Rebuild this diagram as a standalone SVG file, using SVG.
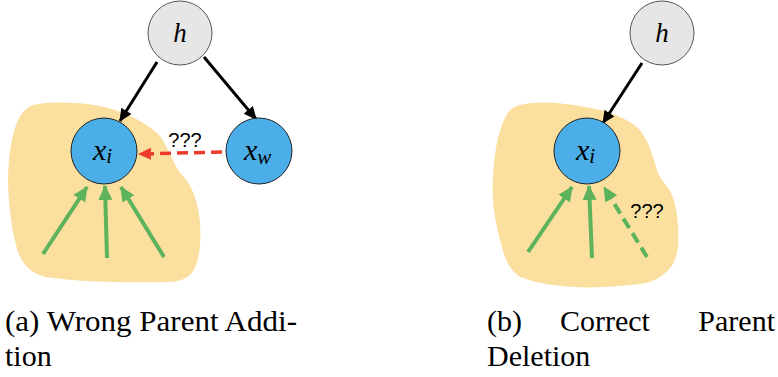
<svg xmlns="http://www.w3.org/2000/svg" width="778" height="377" viewBox="0 0 778 377">
<style>
.blob{fill:#FADF9F;stroke:none}
.hnode{fill:#E6E6E6;stroke:#555;stroke-width:1}
.xnode{fill:#4BAEE8;stroke:#222;stroke-width:1}
.blk{stroke:#000;stroke-width:3;fill:none}
.red{stroke:#EE3A2A;stroke-width:3.5;fill:none;stroke-dasharray:11 6}
.grn{stroke:#5CB35C;stroke-width:4;fill:none}
.grnd{stroke:#5CB35C;stroke-width:4;fill:none;stroke-dasharray:11 6}
</style>
<defs>
<marker id="ab" markerUnits="userSpaceOnUse" markerWidth="14" markerHeight="14" viewBox="0 0 14 14" refX="12" refY="7" orient="auto"><path d="M0,1 L13,7 L0,13 z" fill="#000"/></marker>
<marker id="ar" markerUnits="userSpaceOnUse" markerWidth="14" markerHeight="14" viewBox="0 0 14 14" refX="12" refY="7" orient="auto"><path d="M0,1 L13,7 L0,13 z" fill="#EE3A2A"/></marker>
<marker id="ag" markerUnits="userSpaceOnUse" markerWidth="16" markerHeight="16" viewBox="0 0 16 16" refX="14" refY="8" orient="auto"><path d="M0,1 L15,8 L0,15 z" fill="#5CB35C"/></marker>
</defs>
<path class="blob" d="M33,105 C45,102 60,102 75,103 C95,104 110,107 133,117 C145,124 152,128 160,136 C168,148 172,160 180,173 C190,182 196,195 199,215 C202,235 200,255 196,265 C192,276 185,281 170,282 C130,283 80,282 45,277 C28,272 20,262 16,245 C11,225 8,200 8,177 C9,155 11,140 15,128 C18,118 24,108 33,105 Z"/>
<path class="blob" d="M520,105 C535,102 550,102 565,104 C585,106 605,110 620,117 C632,122 640,128 645,138 C652,150 654,162 658,173 C662,182 668,186 672,195 C678,210 679,230 678,247 C676,260 672,268 665,273 C655,282 645,284 630,285 C610,287 590,288 575,287 C555,286 535,283 520,277 C510,270 505,260 502,247 C497,230 494,215 493,200 C492,185 493,170 495,155 C497,140 500,128 505,118 C509,110 514,106 520,105 Z"/>
<g id="connectors">
<line class="blk" x1="157" y1="62" x2="120" y2="121" marker-end="url(#ab)"/>
<line class="blk" x1="204" y1="57" x2="256" y2="119" marker-end="url(#ab)"/>
<line class="blk" x1="642" y1="63" x2="603" y2="123" marker-end="url(#ab)"/>
<line class="red" x1="222" y1="152" x2="139" y2="154" marker-end="url(#ar)"/>
<line class="grn" x1="43" y1="254" x2="87" y2="187" marker-end="url(#ag)"/>
<line class="grn" x1="107" y1="258" x2="105" y2="186" marker-end="url(#ag)"/>
<line class="grn" x1="164" y1="257" x2="121" y2="187" marker-end="url(#ag)"/>
<line class="grn" x1="528" y1="252" x2="572" y2="187" marker-end="url(#ag)"/>
<line class="grn" x1="592" y1="258" x2="589" y2="186" marker-end="url(#ag)"/>
<line class="grnd" x1="647" y1="257" x2="604" y2="187" marker-end="url(#ag)"/>
</g>
<text font-family="Liberation Sans" font-size="20" text-anchor="middle" x="185" y="147">???</text>
<text font-family="Liberation Sans" font-size="20" text-anchor="middle" x="647" y="218">???</text>
<g id="node-h-a">
<circle class="hnode" cx="180" cy="33" r="32"/>
<text font-family="Liberation Serif" font-style="italic" font-size="27" x="180" y="42" text-anchor="middle">h</text>
</g>
<g id="node-xi-a">
<circle class="xnode" cx="104" cy="151" r="33"/>
<text font-family="Liberation Serif" font-style="italic" font-size="30" x="93" y="160">x<tspan font-size="21" dy="3">i</tspan></text>
</g>
<g id="node-xw-a">
<circle class="xnode" cx="259" cy="151" r="33"/>
<text font-family="Liberation Serif" font-style="italic" font-size="30" x="244" y="160">x<tspan font-size="21" dy="4">w</tspan></text>
</g>
<g id="node-h-b">
<circle class="hnode" cx="662" cy="33" r="32"/>
<text font-family="Liberation Serif" font-style="italic" font-size="27" x="662" y="42" text-anchor="middle">h</text>
</g>
<g id="node-xi-b">
<circle class="xnode" cx="587" cy="151" r="33"/>
<text font-family="Liberation Serif" font-style="italic" font-size="30" x="576" y="160">x<tspan font-size="21" dy="3">i</tspan></text>
</g>
<text font-family="Liberation Serif" font-size="30" x="5" y="331" textLength="292" lengthAdjust="spacingAndGlyphs">(a) Wrong Parent Addi-</text>
<text font-family="Liberation Serif" font-size="30" x="5" y="366">tion</text>
<text font-family="Liberation Serif" font-size="30" x="487" y="331">(b)</text>
<text font-family="Liberation Serif" font-size="30" x="560" y="331">Correct</text>
<text font-family="Liberation Serif" font-size="30" x="775" y="331" text-anchor="end">Parent</text>
<text font-family="Liberation Serif" font-size="30" x="487" y="366">Deletion</text>
</svg>
